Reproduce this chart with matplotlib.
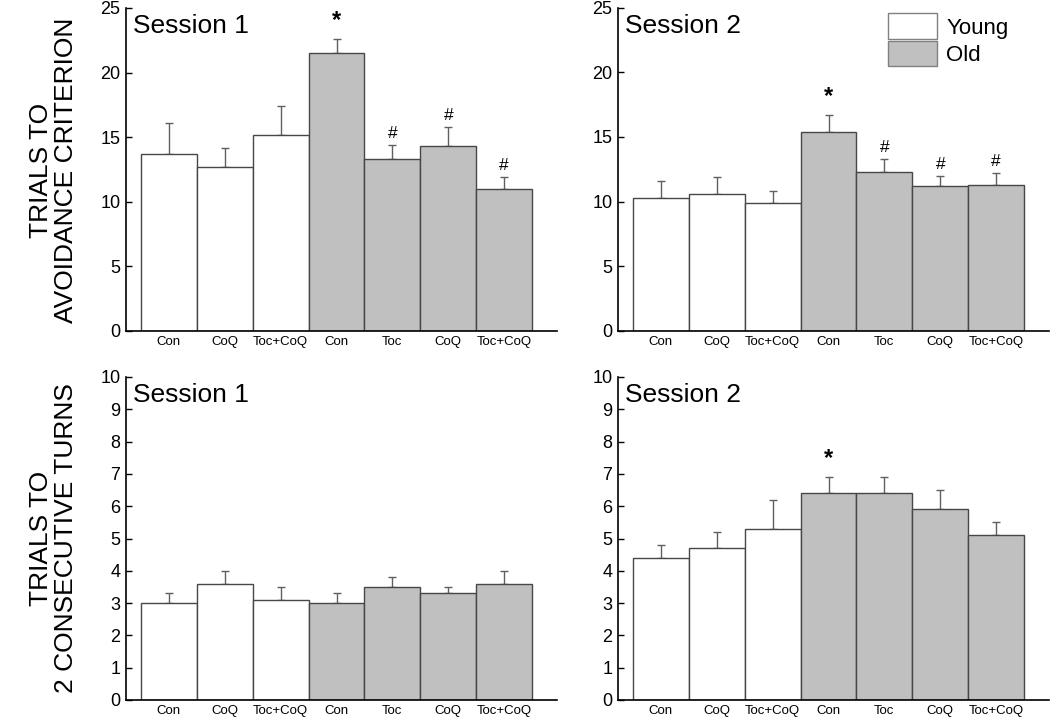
import matplotlib
matplotlib.use("Agg")
import matplotlib.pyplot as plt
from matplotlib.patches import Patch
import numpy as np

plt.rcParams['font.family'] = ['Liberation Sans', 'DejaVu Sans']

categories = ["Con", "CoQ", "Toc+CoQ", "Con", "Toc", "CoQ", "Toc+CoQ"]
groups = ["Young", "Young", "Young", "Old", "Old", "Old", "Old"]

avoid_s1 = [13.7, 12.7, 15.2, 21.5, 13.3, 14.3, 11.0]
avoid_s1_err = [2.4, 1.5, 2.2, 1.1, 1.1, 1.5, 0.9]
avoid_s1_marks = ["", "", "", "*", "#", "#", "#"]

avoid_s2 = [10.3, 10.6, 9.9, 15.4, 12.3, 11.2, 11.3]
avoid_s2_err = [1.3, 1.3, 0.9, 1.3, 1.0, 0.8, 0.9]
avoid_s2_marks = ["", "", "", "*", "#", "#", "#"]

turns_s1 = [3.0, 3.6, 3.1, 3.0, 3.5, 3.3, 3.6]
turns_s1_err = [0.3, 0.4, 0.4, 0.3, 0.3, 0.2, 0.4]
turns_s1_marks = ["", "", "", "", "", "", ""]

turns_s2 = [4.4, 4.7, 5.3, 6.4, 6.4, 5.9, 5.1]
turns_s2_err = [0.4, 0.5, 0.9, 0.5, 0.5, 0.6, 0.4]
turns_s2_marks = ["", "", "", "*", "", "", ""]

colors = {"Young": "white", "Old": "#c0c0c0"}

fig = plt.figure(figsize=(10.5, 7.19), dpi=100)

W, H = 1050, 719
def pos(x0, x1, ytop, ybot):
    return [x0 / W, 1 - ybot / H, (x1 - x0) / W, (ybot - ytop) / H]

panels = [
    (pos(126, 557, 8, 331), avoid_s1, avoid_s1_err, avoid_s1_marks, "Session 1", 25, 5),
    (pos(618, 1049, 7.5, 331), avoid_s2, avoid_s2_err, avoid_s2_marks, "Session 2", 25, 5),
    (pos(126, 557, 377, 700), turns_s1, turns_s1_err, turns_s1_marks, "Session 1", 10, 1),
    (pos(618, 1049, 377, 700), turns_s2, turns_s2_err, turns_s2_marks, "Session 2", 10, 1),
]

axes = []
for rect, vals, errs, marks, title, ymax, step in panels:
    ax = fig.add_axes(rect)
    x = np.arange(len(vals))
    fc = [colors[g] for g in groups]
    ax.bar(x, vals, width=1.0, color=fc, edgecolor="#474747", linewidth=1.0, zorder=2)
    ax.errorbar(x, vals, yerr=[np.zeros(len(errs)), errs], fmt="none",
                ecolor="#606060", elinewidth=1.0, capsize=3, capthick=1.0, zorder=1)
    for xi, v, e, m in zip(x, vals, errs, marks):
        if m == "*":
            ax.annotate(m, (xi, v + e), xytext=(0, 5), textcoords="offset points",
                        ha="center", va="bottom", fontsize=17, fontweight="bold")
        elif m == "#":
            ax.annotate(m, (xi, v + e), xytext=(0, 3), textcoords="offset points",
                        ha="center", va="bottom", fontsize=12.5)
    ax.set_xlim(-0.768, 6.946)
    ax.set_ylim(0, ymax)
    ax.set_yticks(np.arange(0, ymax + 0.01, step))
    ax.set_xticks(x)
    ax.set_xticklabels(categories, fontsize=9.5)
    ax.tick_params(axis="x", length=0, pad=3.5)
    ax.tick_params(axis="y", direction="in", length=4, width=1, labelsize=13, pad=4)
    for s in ["top", "right"]:
        ax.spines[s].set_visible(False)
    for s in ["left", "bottom"]:
        ax.spines[s].set_linewidth(1.2)
    ax.text(0.017, 0.98, title, transform=ax.transAxes, ha="left", va="top", fontsize=19)
    axes.append(ax)

handles = [Patch(facecolor="white", edgecolor="#808080", label="Young"),
           Patch(facecolor="#c0c0c0", edgecolor="#808080", label="Old")]
axes[1].legend(handles=handles, loc="upper left", bbox_to_anchor=(0.591, 1.03),
               frameon=False, fontsize=16, handlelength=2.2, handleheight=1.4,
               labelspacing=0.08, handletextpad=0.4, borderaxespad=0.3)

fig.text(0.051, 1 - 170 / H, "TRIALS TO\nAVOIDANCE CRITERION", rotation=90,
         ha="center", va="center", fontsize=19, linespacing=1.05)
fig.text(0.051, 1 - 538 / H, "TRIALS TO\n2 CONSECUTIVE TURNS", rotation=90,
         ha="center", va="center", fontsize=19, linespacing=1.05)

fig.savefig("out.png", dpi=100)
